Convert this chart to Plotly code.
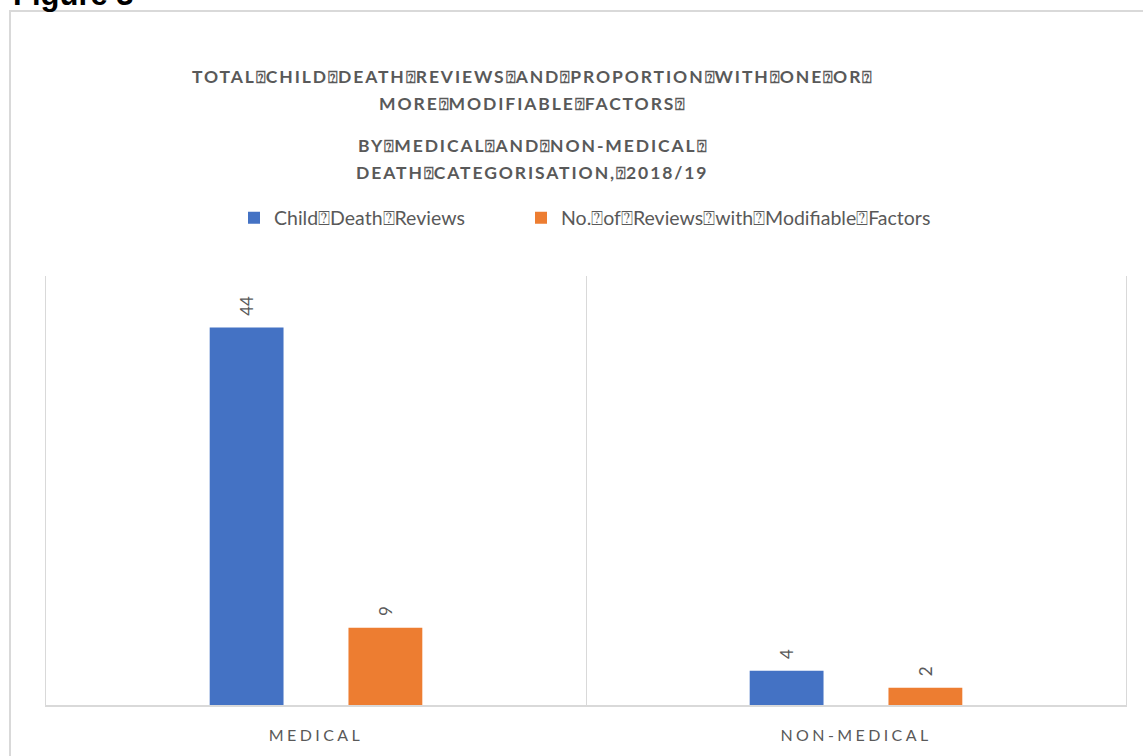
import plotly.graph_objects as go

categories = ["MEDICAL", "NON-MEDICAL"]
child_death_reviews = [44, 4]
reviews_with_modifiable = [9, 2]
series_names = ["Child⍰Death⍰Reviews", "No.⍰of⍰Reviews⍰with⍰Modifiable⍰Factors"]
title_lines = [
    "TOTAL⍰CHILD⍰DEATH⍰REVIEWS⍰AND⍰PROPORTION⍰WITH⍰ONE⍰OR⍰",
    "MORE⍰MODIFIABLE⍰FACTORS⍰",
    "BY⍰MEDICAL⍰AND⍰NON-MEDICAL⍰",
    "DEATH⍰CATEGORISATION,⍰2018/19",
]
figure_label = "Figure 3"

W, H = 1143, 756
ML, MR, MT, MB = 46, 17, 276, 51
PW, PH = W - ML - MR, H - MT - MB
GREY = "#595959"
FONT = "Lato"
PAD = "\u00a0" * 2


def px_x(px):
    return (px - ML) / PW


def px_y(py):
    return (H - MB - py) / PH


def spaced(s, sp):
    return f'<span style="letter-spacing:{sp}px">{s}</span>'


def title_markup(s, sp):
    parts = s.split("⍰")
    box = '<span style="font-size:16px">⍰</span>'
    return "<b>" + box.join(spaced(p, sp) for p in parts) + "</b>"


fig = go.Figure()
for vals, name, color, lg in [(child_death_reviews, series_names[0], "#4472C4", "legend"),
                              (reviews_with_modifiable, series_names[1], "#ED7D31", "legend2")]:
    fig.add_trace(go.Bar(
        x=categories, y=vals, name=name, legend=lg,
        marker=dict(color=color, line=dict(width=0)),
        text=[PAD + str(v) for v in vals], textposition="outside",
        textangle=-90, constraintext="none", cliponaxis=False,
        textfont=dict(size=17, color=GREY, family=FONT),
    ))

annotations = []
for line, cy in zip(title_lines, [76, 103, 145, 172]):
    annotations.append(dict(
        text=title_markup(line, 1.9), xref="paper", yref="paper",
        x=px_x(532), y=px_y(cy), xanchor="center", yanchor="middle",
        showarrow=False, font=dict(size=17.5, color=GREY, family=FONT),
    ))
annotations.append(dict(
    text="<b>" + figure_label + "</b>", xref="paper", yref="paper",
    x=px_x(11), y=px_y(14), xanchor="left", yanchor="bottom",
    showarrow=False, font=dict(size=31, color="black", family="Liberation Sans"),
))

legend_common = dict(orientation="h", yanchor="middle", y=px_y(218),
                     xanchor="left", font=dict(size=19.5, color=GREY, family=FONT),
                     itemclick=False, itemdoubleclick=False,
                     bgcolor="rgba(0,0,0,0)")

fig.update_layout(
    width=W, height=H,
    margin=dict(l=ML, r=MR, t=MT, b=MB, autoexpand=False),
    paper_bgcolor="white", plot_bgcolor="white",
    barmode="group", bargap=0.486, bargroupgap=0.468,
    showlegend=True,
    legend=dict(x=px_x(234), **legend_common),
    legend2=dict(x=px_x(521), **legend_common),
    annotations=annotations,
    shapes=[dict(type="rect", xref="paper", yref="paper",
                 x0=px_x(10), x1=px_x(1170), y0=px_y(800), y1=px_y(11),
                 line=dict(color="#d9d9d9", width=2), fillcolor="rgba(0,0,0,0)",
                 layer="above")],
    xaxis=dict(
        type="category", tickson="boundaries", showgrid=True,
        gridcolor="#d9d9d9", gridwidth=1, showline=True,
        linecolor="#d9d9d9", linewidth=2, ticks="", zeroline=False,
        tickmode="array", tickvals=categories,
        ticktext=[spaced(c, 3.4) for c in categories],
        tickfont=dict(size=16, color=GREY, family=FONT),
        ticklabelstandoff=15, range=[-0.5, 1.5],
    ),
    yaxis=dict(range=[0, 50], showgrid=False, zeroline=False,
               showticklabels=False, ticks="", showline=True, mirror=True,
               linecolor="#d9d9d9", linewidth=1),
)

fig.write_html("out.html")
